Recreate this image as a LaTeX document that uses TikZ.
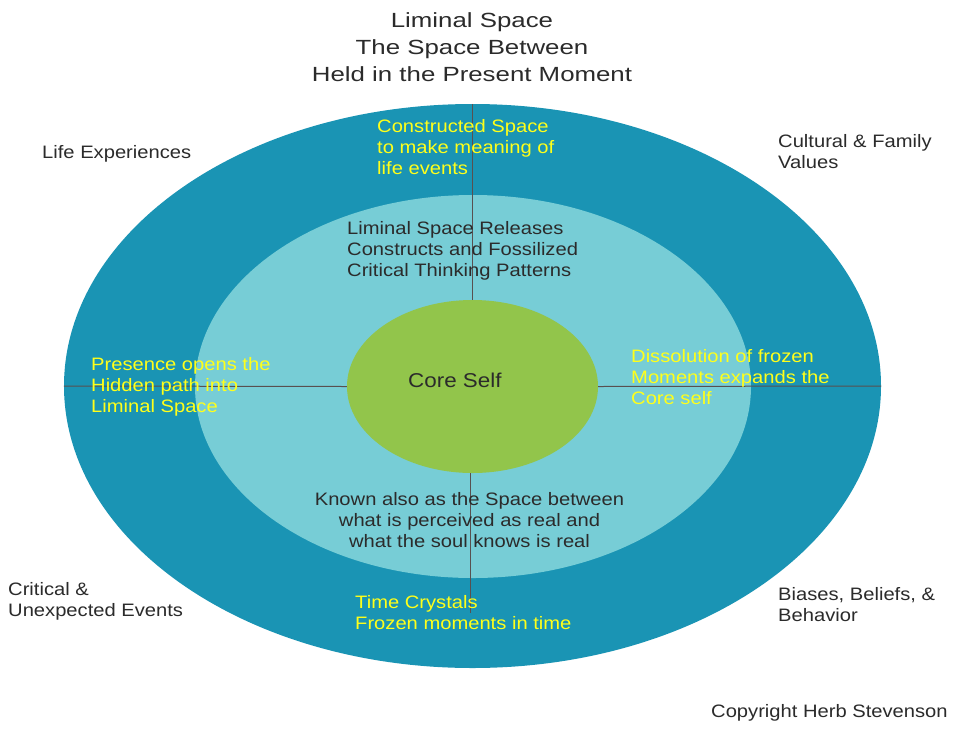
\documentclass[tikz,border=0pt]{standalone}
\usepackage{fontspec}
\usetikzlibrary{shapes.geometric}
\newfontfamily\bodyfont[FakeStretch=1.12]{Liberation Sans}
\newfontfamily\titlefont[FakeStretch=1.26]{Liberation Sans}
\definecolor{outerteal}{HTML}{1A94B4}
\definecolor{midteal}{HTML}{77CDD6}
\definecolor{coregreen}{HTML}{92C54B}
\definecolor{linegray}{HTML}{585050}
\definecolor{darktext}{HTML}{2B2B2B}
\definecolor{ylw}{HTML}{FFFF1A}
\tikzset{
  oval/.style={ellipse, inner sep=0pt, draw=none},
  divider/.style={draw=linegray, line width=1pt},
  lbl/.style={inner sep=0pt, anchor=base west, align=left, text=darktext,
    font=\bodyfont\fontsize{18}{21}\selectfont},
  ylbl/.style={lbl, text=ylw},
  ttl/.style={inner sep=0pt, anchor=base, align=center, text=darktext,
    font=\titlefont\fontsize{20.5}{27}\selectfont}
}
\begin{document}
\begin{tikzpicture}[x=1pt,y=-1pt]
\useasboundingbox (0,0) rectangle (974,729);
\fill[white] (0,0) rectangle (974,729);
\node[oval, fill=outerteal, minimum width=817pt, minimum height=564pt] (outer) at (472.5,386) {};
\node[oval, fill=midteal, minimum width=556pt, minimum height=383pt] (middle) at (473,386.5) {};
\node[oval, fill=coregreen, minimum width=251pt, minimum height=173pt] (core) at (472.5,386.5) {};
\coordinate (bot) at (470,613);
\draw[divider] (outer.north) -- (core.north);
\draw[divider] (bot |- core.south) -- (bot);
\draw[divider] (outer.west) -- (core.west);
\draw[divider] (core.east) -- (outer.east);
% multi-line nodes: base anchor is the baseline of the last line
\node[ttl] (title) at (472,81) {Liminal Space\\The Space Between\\Held in the Present Moment};
\node[lbl, font=\bodyfont\fontsize{20}{24}\selectfont] (coreself) at (408,387) {Core Self};
\node[lbl] (life) at (42,158) {Life Experiences};
\node[lbl] (cultural) at (778,168) {Cultural \& Family\\Values};
\node[lbl] (critical) at (8,616) {Critical \&\\Unexpected Events};
\node[lbl] (biases) at (778,621) {Biases, Beliefs, \&\\Behavior};
\node[lbl] (copy) at (711,717) {Copyright Herb Stevenson};
\node[ylbl] (constructed) at (377,174) {Constructed Space\\to make meaning of\\life events};
\node[lbl] (releases) at (347,276) {Liminal Space Releases\\Constructs and Fossilized\\Critical Thinking Patterns};
\node[ylbl] (presence) at (91,412) {Presence opens the\\Hidden path into\\Liminal Space};
\node[ylbl] (dissolution) at (631,404) {Dissolution of frozen\\Moments expands the\\Core self};
\node[lbl, anchor=base, align=center] (known) at (469.5,547) {Known also as the Space between\\what is perceived as real and\\what the soul knows is real};
\node[ylbl] (crystals) at (355,629) {Time Crystals\\Frozen moments in time};
\end{tikzpicture}
\end{document}
